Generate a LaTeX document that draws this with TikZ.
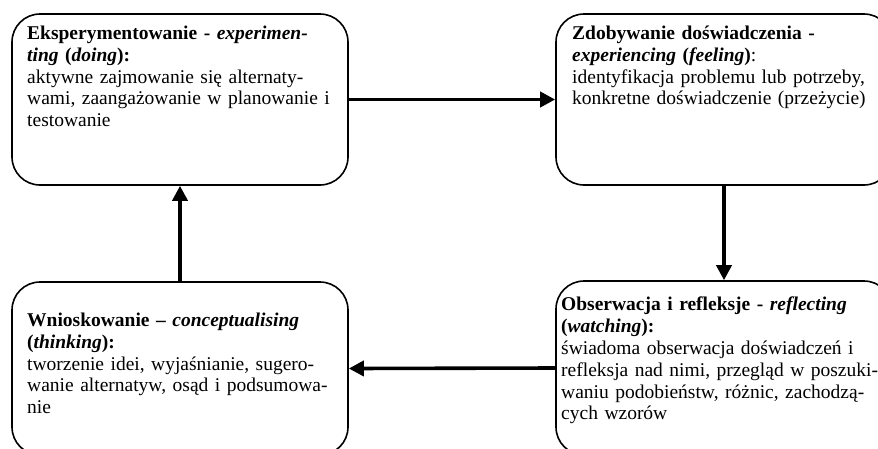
\documentclass[tikz,border=0pt]{standalone}
\usepackage{fontspec}
\setmainfont{Liberation Serif}
\usetikzlibrary{arrows.meta}
\tikzset{
  stage/.style={draw=black, line width=1.6pt, rounded corners=28pt, minimum width=336pt, inner sep=0pt},
  txt/.style={anchor=north west, inner sep=0pt, text width=345pt, align=left,
    font=\fontsize{19.5}{21.9}\selectfont},
  flow/.style={line width=3.6pt, -{Triangle[length=15pt,width=15pt]}}
}
\begin{document}
\begin{tikzpicture}[x=1pt,y=-1pt]
\useasboundingbox (0,0) rectangle (878,448);
\clip (0,0) rectangle (878,448);
\node[stage, minimum height=171pt] (b1) at (180,99.5) {};
\node[stage, minimum height=171pt] (b2) at (724,99.5) {};
\node[stage, minimum height=173pt] (b3) at (180,368.5) {};
\node[stage, minimum height=174pt] (b4) at (724,368) {};
\node[txt] (t1) at (27,25.5) {\textbf{Eksperymentowanie - \textit{experimen-}}\\
\textbf{\textit{ting} (\textit{doing}):}\\
aktywne zajmowanie się alternaty-\\
wami, zaangażowanie w planowanie i\\
testowanie};
\node[txt] (t2) at (572,25.5) {\textbf{Zdobywanie doświadczenia -}\\
\textbf{\textit{experiencing} (\textit{feeling})}:\\
identyfikacja problemu lub potrzeby,\\
konkretne doświadczenie (przeżycie)};
\node[txt] (t3) at (27,312.5) {\textbf{Wnioskowanie – \textit{conceptualising}}\\
\textbf{(\textit{thinking}):}\\
tworzenie idei, wyjaśnianie, sugero-\\
wanie alternatyw, osąd i podsumowa-\\
nie};
\node[txt] (t4) at (561,296.5) {\textbf{Obserwacja i refleksje - \textit{reflecting}}\\
\textbf{(\textit{watching}):}\\
świadoma obserwacja doświadczeń i\\
refleksja nad nimi, przegląd w poszuki-\\
waniu podobieństw, różnic, zachodzą-\\
cych wzorów};
\draw[flow] (b1.east) -- (b2.west);
\draw[flow] (b2.south) -- (b4.north);
\draw[flow] (b4.west) -- (b3.east);
\draw[flow] (b3.north) -- (b1.south);
\end{tikzpicture}
\end{document}
